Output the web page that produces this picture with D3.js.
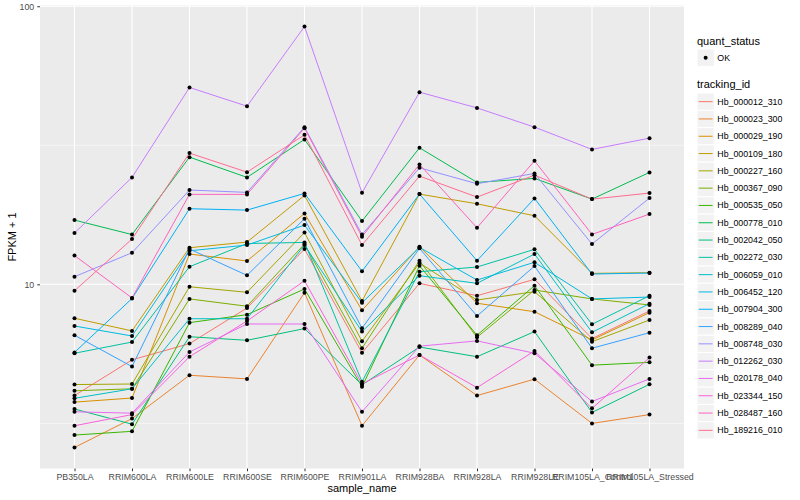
<!DOCTYPE html>
<html>
<head>
<meta charset="utf-8">
<script src="https://cdn.jsdelivr.net/npm/d3@7"></script>
<style>
  body { margin: 0; background: #fff; }
  text { font-family: "Liberation Sans", Arial, Helvetica, sans-serif; }
</style>
</head>
<body>
<svg id="chart" width="800" height="500"></svg>
<script>
// samples on the x axis
const samples = ["PB350LA", "RRIM600LA", "RRIM600LE", "RRIM600SE", "RRIM600PE", "RRIM901LA",
  "RRIM928BA", "RRIM928LA", "RRIM928LE", "RRIM105LA_Control", "RRIM105LA_Stressed"];

const trackingIds = ["Hb_000012_310", "Hb_000023_300", "Hb_000029_190", "Hb_000109_180", "Hb_000227_160",
  "Hb_000367_090", "Hb_000535_050", "Hb_000778_010", "Hb_002042_050", "Hb_002272_030", "Hb_006059_010",
  "Hb_006452_120", "Hb_007904_300", "Hb_008289_040", "Hb_008748_030", "Hb_012262_030", "Hb_020178_040",
  "Hb_023344_150", "Hb_028487_160", "Hb_189216_010"];

// FPKM + 1 per sample, one array per gene
const hb000012_310 = [3.98, 5.35, 6.12, 8.22, 13.39, 5.67, 10.08, 9.10, 10.42, 6.38, 8.02];
const hb000023_300 = [2.59, 3.29, 4.71, 4.57, 9.33, 3.10, 5.57, 3.98, 4.56, 3.16, 3.40];
const hb000029_190 = [3.77, 3.90, 12.85, 12.13, 17.99, 8.06, 13.65, 8.55, 7.97, 6.31, 7.91];
const hb000109_180 = [7.55, 6.80, 13.54, 14.19, 20.88, 8.71, 21.11, 19.48, 17.64, 10.95, 11.01];
const hb000227_160 = [4.36, 4.38, 9.80, 9.36, 15.35, 6.24, 11.93, 8.78, 9.41, 6.22, 7.44];
const hb000367_090 = [4.14, 4.21, 8.86, 8.34, 13.96, 5.89, 12.16, 6.45, 9.54, 8.86, 8.43];
const hb000535_050 = [2.87, 2.96, 7.28, 7.78, 9.62, 4.28, 11.66, 6.56, 9.89, 5.12, 5.24];
const hb000778_010 = [17.02, 15.10, 28.67, 24.24, 33.19, 16.88, 30.97, 23.26, 24.04, 20.25, 25.26];
const hb002042_050 = [3.56, 3.14, 6.48, 6.29, 6.93, 4.35, 5.95, 5.49, 6.76, 3.46, 4.37];
const hb002272_030 = [5.65, 6.20, 11.57, 14.02, 14.15, 4.46, 11.10, 11.54, 13.36, 7.18, 9.10];
const hb006059_010 = [3.89, 4.21, 7.52, 7.52, 13.84, 6.76, 10.74, 10.08, 12.85, 6.72, 8.52];
const hb006452_120 = [7.08, 6.52, 13.20, 13.84, 16.33, 8.59, 13.58, 10.36, 12.00, 8.86, 9.00];
const hb007904_300 = [5.69, 8.89, 18.70, 18.49, 21.23, 11.14, 21.11, 12.16, 20.37, 10.89, 10.98];
const hb008289_040 = [6.56, 5.06, 13.40, 10.77, 17.21, 6.95, 13.47, 7.69, 11.63, 5.89, 6.70];
const hb008748_030 = [10.65, 12.99, 21.83, 21.41, 36.75, 15.10, 26.24, 23.00, 25.05, 13.96, 20.42];
const hb012262_030 = [15.29, 24.24, 51.05, 43.71, 84.54, 21.34, 49.09, 43.10, 36.75, 30.56, 33.55];
const hb020178_040 = [3.48, 3.44, 5.71, 7.20, 7.20, 3.48, 5.99, 6.26, 5.65, 3.79, 4.57];
const hb023344_150 = [3.10, 3.40, 5.49, 7.38, 10.30, 4.38, 5.57, 4.25, 5.76, 3.58, 5.45];
const hb028487_160 = [12.69, 8.93, 21.06, 21.06, 36.45, 14.83, 27.00, 15.97, 27.81, 15.12, 17.89];
const hb189216_010 = [9.48, 14.55, 29.64, 25.32, 34.48, 13.84, 24.50, 20.59, 24.70, 20.25, 21.29];

const geneValues = [hb000012_310, hb000023_300, hb000029_190, hb000109_180, hb000227_160,
  hb000367_090, hb000535_050, hb000778_010, hb002042_050, hb002272_030, hb006059_010,
  hb006452_120, hb007904_300, hb008289_040, hb008748_030, hb012262_030, hb020178_040,
  hb023344_150, hb028487_160, hb189216_010];

const yTicks = [10, 100];
const yMinorTicks = [Math.sqrt(10), Math.sqrt(1000)];
const statusLabels = ["OK"];

// ggplot default hue palette, 20 levels
const palette = ["#F8766D", "#EA8331", "#D89000", "#C09B00", "#A3A500", "#7CAE00", "#39B600",
  "#00BB4E", "#00BF7D", "#00C1A3", "#00BFC4", "#00BAE0", "#00B0F6", "#35A2FF", "#9590FF",
  "#C77CFF", "#E76BF3", "#FA62DB", "#FF62BC", "#FF6C91"];

const series = trackingIds.map((id, i) => ({
  id: id,
  values: samples.map((s, j) => ({ sample: s, value: geneValues[i][j] }))
}));

const panel = { left: 40, right: 684, top: 5.5, bottom: 468.5 };
const svg = d3.select("#chart");

const x = d3.scalePoint()
  .domain(samples)
  .range([panel.left, panel.right])
  .padding(0.6);

// log scale with ggplot style 5% expansion
const allValues = geneValues.flat();
const lo = Math.log10(d3.min(allValues));
const hi = Math.log10(d3.max(allValues));
const pad = (hi - lo) * 0.05;
const y = d3.scaleLog()
  .domain([Math.pow(10, lo - pad), Math.pow(10, hi + pad)])
  .range([panel.bottom, panel.top]);

const color = d3.scaleOrdinal().domain(trackingIds).range(palette);

// panel background and grid
svg.append("rect")
  .attr("x", panel.left).attr("y", panel.top)
  .attr("width", panel.right - panel.left).attr("height", panel.bottom - panel.top)
  .attr("fill", "#EBEBEB");

const grid = svg.append("g");
grid.selectAll(".minor").data(yMinorTicks).enter().append("line")
  .attr("x1", panel.left).attr("x2", panel.right)
  .attr("y1", d => y(d)).attr("y2", d => y(d))
  .attr("stroke", "#fff").attr("stroke-width", 0.55);
grid.selectAll(".ymajor").data(yTicks).enter().append("line")
  .attr("x1", panel.left).attr("x2", panel.right)
  .attr("y1", d => y(d)).attr("y2", d => y(d))
  .attr("stroke", "#fff").attr("stroke-width", 1.1);
grid.selectAll(".xmajor").data(samples).enter().append("line")
  .attr("x1", d => x(d)).attr("x2", d => x(d))
  .attr("y1", panel.top).attr("y2", panel.bottom)
  .attr("stroke", "#fff").attr("stroke-width", 1.1);

// lines
const line = d3.line()
  .x(d => x(d.sample))
  .y(d => y(d.value));

svg.append("g").selectAll("path").data(series).enter().append("path")
  .attr("d", d => line(d.values))
  .attr("fill", "none")
  .attr("stroke", d => color(d.id))
  .attr("stroke-width", 1);

// points
svg.append("g").selectAll("g").data(series).enter().append("g")
  .selectAll("circle").data(d => d.values).enter().append("circle")
  .attr("cx", d => x(d.sample))
  .attr("cy", d => y(d.value))
  .attr("r", 2)
  .attr("fill", "#000");

// axes
const xAxis = d3.axisBottom(x).tickSize(2.75).tickPadding(3);
const gx = svg.append("g")
  .attr("transform", `translate(0,${panel.bottom})`)
  .call(xAxis);
gx.select(".domain").remove();
gx.selectAll("line").attr("stroke", "#333333");
gx.selectAll("text").attr("fill", "#4D4D4D").style("font-size", "8.8px");

const yAxis = d3.axisLeft(y).tickValues(yTicks).tickFormat(d3.format("d")).tickSize(2.75).tickPadding(3);
const gy = svg.append("g")
  .attr("transform", `translate(${panel.left},0)`)
  .call(yAxis);
gy.select(".domain").remove();
gy.selectAll("line").attr("stroke", "#333333");
gy.selectAll("text").attr("fill", "#4D4D4D").style("font-size", "8.8px");

svg.append("text")
  .attr("x", (panel.left + panel.right) / 2)
  .attr("y", 492)
  .attr("text-anchor", "middle")
  .style("font-size", "11px")
  .text("sample_name");

svg.append("text")
  .attr("transform", `translate(16,${(panel.top + panel.bottom) / 2}) rotate(-90)`)
  .attr("text-anchor", "middle")
  .style("font-size", "11px")
  .text("FPKM + 1");

// legends
const legX = 697, keySize = 17.3;
const leg = svg.append("g");

leg.append("text")
  .attr("x", legX).attr("y", 44.5)
  .style("font-size", "11px")
  .text("quant_status");

const statusKey = leg.selectAll(".status").data(statusLabels).enter().append("g")
  .attr("transform", (d, i) => `translate(${legX},${49 + i * keySize})`);
statusKey.append("rect")
  .attr("width", keySize).attr("height", keySize)
  .attr("fill", "#F2F2F2").attr("stroke", "#fff");
statusKey.append("circle")
  .attr("cx", keySize / 2).attr("cy", keySize / 2).attr("r", 2).attr("fill", "#000");
statusKey.append("text")
  .attr("x", keySize + 3).attr("y", keySize / 2 + 3)
  .style("font-size", "8.8px")
  .text(d => d);

leg.append("text")
  .attr("x", legX).attr("y", 88)
  .style("font-size", "11px")
  .text("tracking_id");

const idKey = leg.selectAll(".id").data(trackingIds).enter().append("g")
  .attr("transform", (d, i) => `translate(${legX},${93 + i * keySize})`);
idKey.append("rect")
  .attr("width", keySize).attr("height", keySize)
  .attr("fill", "#F2F2F2").attr("stroke", "#fff");
idKey.append("line")
  .attr("x1", 1.7).attr("x2", keySize - 1.7)
  .attr("y1", keySize / 2).attr("y2", keySize / 2)
  .attr("stroke", d => color(d)).attr("stroke-width", 1);
idKey.append("text")
  .attr("x", keySize + 3).attr("y", keySize / 2 + 3)
  .style("font-size", "8.8px")
  .text(d => d);
</script>
</body>
</html>
